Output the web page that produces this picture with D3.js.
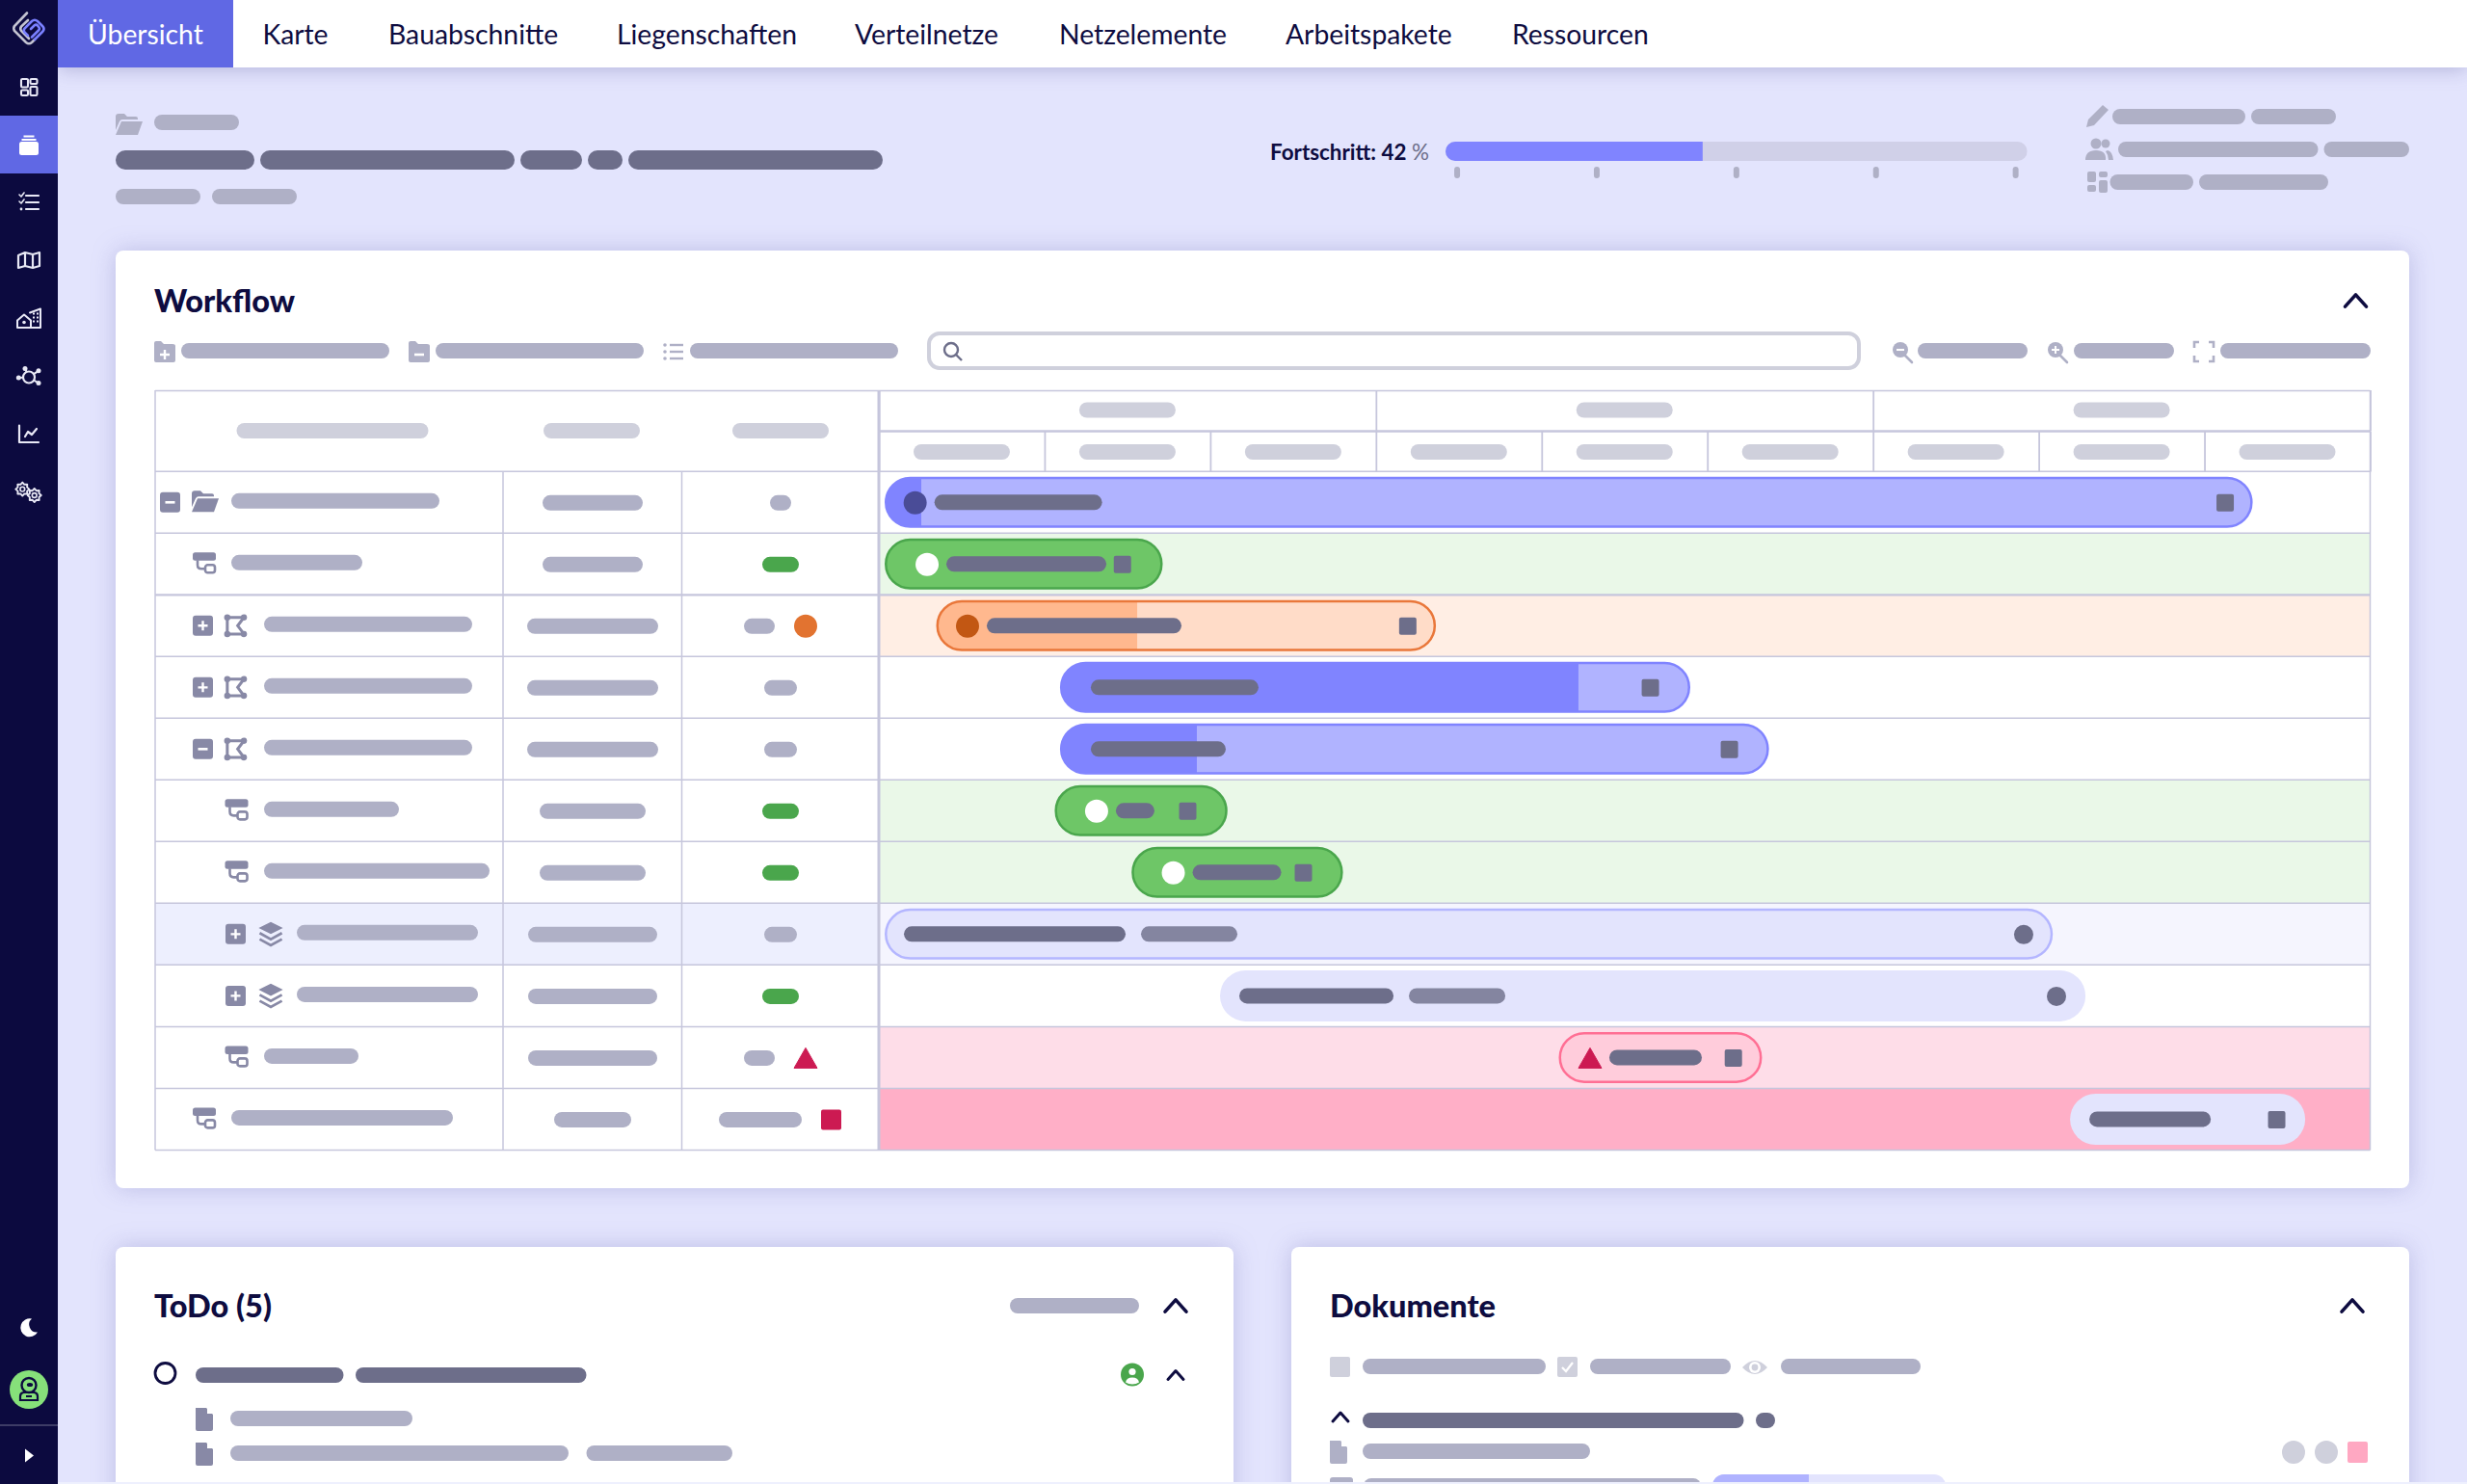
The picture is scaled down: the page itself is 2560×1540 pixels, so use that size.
<!DOCTYPE html>
<html>
<head>
<meta charset="utf-8">
<title>Workflow</title>
<script src="https://cdn.jsdelivr.net/npm/d3@7"></script>
<style>
  html, body { margin: 0; padding: 0; background: #e3e4fd; }
  svg { display: block; }
  text { font-family: Lato, "Open Sans", sans-serif; }
</style>
</head>
<body>
<div id="page"></div>
<script>
// nav
var navTabs = ["Übersicht", "Karte", "Bauabschnitte", "Liegenschaften", "Verteilnetze", "Netzelemente", "Arbeitspakete", "Ressourcen"];
var navStart = [91, 272.5, 403, 640, 887, 1099, 1334, 1569];

// progress
var progressValue = 44.2;
var progressTicks = [2, 26, 50, 74, 98];

// gantt, times are in months from the left edge of the time line
var monthTicks = [0, 1, 2, 3, 4, 5, 6, 7, 8, 9];
var quarterTicks = [0, 3, 6, 9];
var rowIds = [0, 1, 2, 3, 4, 5, 6, 7, 8, 9, 10];
var barStart = [0.035, 0.035, 0.346, 1.093, 1.093, 1.061, 1.525, 0.035, 2.059, 4.103, 7.189];
var barEnd = [8.291, 1.713, 3.362, 4.897, 5.372, 2.104, 2.801, 7.085, 7.282, 5.330, 8.608];
var barDone = [0.256, null, 1.559, 4.222, 1.919, null, null, null, null, null, null];
var startMark = [0.219, 0.291, 0.535, null, null, 1.314, 1.777, null, null, 4.292, null];
var endMark = [8.125, 1.470, 3.192, 4.656, 5.133, 1.864, 2.562, 6.909, 7.107, 5.157, 8.436];
var rowState = ["blue", "green", "orange", "blue", "blue", "green", "green", "phase", "phaseFlat", "pink", "late"];
var rowDepth = [0, 0, 1, 1, 1, 1, 1, 2, 2, 1, 0];
var rowKind = ["folder", "task", "area", "area", "area", "task", "task", "layers", "layers", "task", "task"];
var rowToggle = ["-", null, "+", "+", "-", null, null, "+", "+", null, null];

// redacted text, lengths in characters
var nameChars = [27, 17, 27, 27, 27, 17.5, 29.25, 23.5, 23.5, 12.25, 28.75];
var dateChars = [13, 13, 17, 17, 17, 13.75, 13.75, 16.75, 16.75, 16.75, 10];
var statusChars = [2.75, 4.75, 4, 4.25, 4.25, 4.75, 4.75, 4.25, 4.75, 4, 10.75];
var statusGood = [false, true, false, false, false, true, true, false, true, false, false];
var statusFlag = [null, null, "circle", null, null, null, null, null, null, "triangle", "square"];
var barChars = [21.75, 20.75, 25.25, 21.75, 17.5, 5, 11.5, 28.75, 20, 12, 15.75];
var barChars2 = [0, 0, 0, 0, 0, 0, 0, 12.5, 12.5, 0, 0];

var colors = {
  side: "#0c0a3f", tab: "#6068e4", page: "#e3e4fd", ink: "#0e0c40",
  dark: "#6d6e8a", mid: "#8485a0", pale: "#afb0c6", faint: "#cfd0dc", icon: "#8889a6",
  line: "#c6c6dc", crimson: "#cc1a52", orange: "#e27330", good: "#4aa64c", blue: "#8084ff"
};
var states = {
  blue: { row: "#ffffff", fill: "#b0b3ff", done: "#8084ff", stroke: "#8084ff", dot: "#4a4c97" },
  green: { row: "#eaf8e8", fill: "#6ec667", done: "#6ec667", stroke: "#4aa64c", dot: "#ffffff" },
  orange: { row: "#ffeee4", fill: "#ffdcc8", done: "#ffb88e", stroke: "#e9773a", dot: "#c25713" },
  phase: { row: "#f5f5fe", fill: "#e3e4fd", done: "#e3e4fd", stroke: "#b4b6ff", dot: "#6d6e8a" },
  phaseFlat: { row: "#ffffff", fill: "#e3e4fd", done: "#e3e4fd", stroke: "none", dot: "#6d6e8a" },
  pink: { row: "#fedde8", fill: "#ffccdb", done: "#ffccdb", stroke: "#ff6f94", dot: "#cc1a52" },
  late: { row: "#ffafc7", fill: "#e3e4fd", done: "#e3e4fd", stroke: "none", dot: "#6d6e8a" }
};

var svg = d3.select("#page").append("svg").attr("width", 2560).attr("height", 1540);
var defs = svg.append("defs");

// scales
var x = d3.scaleLinear().domain([0, 9]).range([912, 2459.5]);
var y = d3.scaleBand().domain(rowIds).range([489.3, 1193.4]);
var chars = d3.scaleLinear().domain([0, 1]).range([0, 8]);
var prog = d3.scaleLinear().domain([0, 100]).range([1500, 2103.7]);

function pill(g, x0, x1, yc, h, color) {
  return g.append("rect").attr("x", x0).attr("y", yc - h / 2).attr("width", x1 - x0).attr("height", h)
    .attr("rx", h / 2).attr("fill", color);
}
function card(x0, y0, x1, y1) {
  svg.append("rect").attr("x", x0).attr("y", y0).attr("width", x1 - x0).attr("height", y1 - y0)
    .attr("rx", 8).attr("fill", "#fff")
    .style("filter", "drop-shadow(0 0 12px rgba(90,90,170,.28))");
}
function title(str, tx, ty) {
  svg.append("text").attr("x", tx).attr("y", ty).attr("font-size", 32.5).attr("font-weight", 900)
    .attr("fill", colors.ink).text(str);
}
function chevron(g, cx, cy, w, sw) {
  g.append("path").attr("d", "M" + (cx - w / 2) + " " + (cy + w * 0.28) + "L" + cx + " " + (cy - w * 0.28) + "L" + (cx + w / 2) + " " + (cy + w * 0.28))
    .attr("fill", "none").attr("stroke", colors.ink).attr("stroke-width", sw).attr("stroke-linecap", "round").attr("stroke-linejoin", "round");
}

// little glyphs, each one is drawn around 0,0
function at(g, cx, cy, s) {
  return g.append("g").attr("transform", "translate(" + cx + "," + cy + ")" + (s ? " scale(" + s + ")" : ""));
}
function folderOpen(g, c) {
  g.append("path").attr("fill", c).attr("d", "M-14 -8q0-3 3-3h6l3 3h9q2 0 2 2v1h-16q-2 0-3 2l-4 9z");
  g.append("path").attr("fill", c).attr("d", "M-8 -3h22l-5 14h-23z");
}
function folderSign(g, c, sign) {
  g.append("path").attr("fill", c).attr("d", "M-11 -9q0-2 2-2h5l3 3h9q3 0 3 2v15q0 2-2 2h-18q-2 0-2-2z");
  sign(g.append("g").attr("transform", "translate(0,3)"));
}
function plusSign(g) {
  g.append("path").attr("d", "M-5 0h10M0 -5v10").attr("stroke", "#fff").attr("stroke-width", 2.4).attr("fill", "none");
}
function minusSign(g) {
  g.append("path").attr("d", "M-5 0h10").attr("stroke", "#fff").attr("stroke-width", 2.6).attr("fill", "none");
}
function listGlyph(g, c) {
  [-7, 0, 7].forEach(function(d) {
    g.append("circle").attr("cx", -9).attr("cy", d).attr("r", 1.8).attr("fill", c);
    g.append("rect").attr("x", -4).attr("y", d - 1.2).attr("width", 14).attr("height", 2.4).attr("fill", c);
  });
}
function taskGlyph(g) {
  var c = colors.icon;
  g.append("rect").attr("x", -12).attr("y", -11).attr("width", 24).attr("height", 8.5).attr("rx", 2.5).attr("fill", c);
  g.append("path").attr("d", "M-7 -3v5q0 4 4 4h4").attr("fill", "none").attr("stroke", c).attr("stroke-width", 2.6);
  g.append("rect").attr("x", 1).attr("y", 2).attr("width", 10).attr("height", 8).attr("rx", 2.5).attr("fill", "#fff").attr("stroke", c).attr("stroke-width", 2.6);
}
function areaGlyph(g) {
  var c = colors.icon;
  g.append("path").attr("d", "M-8 -8H8L2 0L8 8H-8Z").attr("fill", "none").attr("stroke", c).attr("stroke-width", 2.8);
  [[-8, -8], [8, -8], [8, 8], [-8, 8]].forEach(function(p) {
    g.append("circle").attr("cx", p[0]).attr("cy", p[1]).attr("r", 3).attr("fill", c);
  });
}
function layersGlyph(g) {
  var c = colors.icon;
  g.append("path").attr("d", "M0 -12L12 -6L0 0L-12 -6Z").attr("fill", c);
  g.append("path").attr("d", "M-11 -1L0 5L11 -1M-11 5L0 11L11 5").attr("fill", "none").attr("stroke", c).attr("stroke-width", 2.6);
}
function toggleBox(g, sign) {
  g.append("rect").attr("x", -10.5).attr("y", -10.5).attr("width", 21).attr("height", 21).attr("rx", 3).attr("fill", colors.icon);
  if (sign == "+") plusSign(g); else minusSign(g);
}
function magnifier(g, c, sign) {
  g.append("circle").attr("cx", -2).attr("cy", -2).attr("r", 8).attr("fill", c);
  g.append("path").attr("d", "M3 4L10 11").attr("stroke", c).attr("stroke-width", 2.6).attr("stroke-linecap", "round");
  if (sign) sign(at(g, -2, -2, 0.8));
}
function docGlyph(g, c) {
  g.append("path").attr("fill", c).attr("d", "M-9 -12h11l7 7v15q0 2-2 2h-14q-2 0-2-2v-20q0-2 0-2z");
  g.append("path").attr("fill", "#fff").attr("d", "M3 -12v6h6z");
}
function gear(g, cx, cy, color) {
  var teeth = d3.range(0, 16).map(function(i) { return [i * Math.PI / 8, i % 2 ? 5.2 : 7]; });
  var gg = at(g, cx, cy);
  gg.append("path").attr("d", d3.lineRadial().curve(d3.curveLinearClosed)(teeth))
    .attr("fill", "none").attr("stroke", color).attr("stroke-width", 1.9).attr("stroke-linejoin", "round");
  gg.append("circle").attr("r", 2.4).attr("fill", "none").attr("stroke", color).attr("stroke-width", 1.6);
}

// page
svg.append("rect").attr("width", 2560).attr("height", 1540).attr("fill", colors.page);

// nav bar
svg.append("rect").attr("x", 60).attr("width", 2500).attr("height", 70).attr("fill", "#fff")
  .style("filter", "drop-shadow(0 2px 10px rgba(70,70,140,.3))");
svg.append("rect").attr("x", 60).attr("width", 182).attr("height", 70).attr("fill", colors.tab);
svg.selectAll(".tab").data(navTabs).enter().append("text").attr("class", "tab")
  .attr("x", function(d, i) { return navStart[i]; })
  .attr("y", 46)
  .attr("font-size", 28.3)
  .attr("fill", function(d, i) { return i == 0 ? "#ffffff" : colors.ink; })
  .text(function(d) { return d; });

// head of the page
folderOpen(at(svg, 134, 129), colors.pale);
pill(svg, 160, 248, 127, 16, colors.pale);
[[120, 264], [270, 534], [540, 604], [610, 646], [652, 916]].forEach(function(p) { pill(svg, p[0], p[1], 166, 20, colors.dark); });
[[120, 208], [220, 308]].forEach(function(p) { pill(svg, p[0], p[1], 204, 16, colors.pale); });

// progress
var progText = svg.append("text").attr("x", 1318).attr("y", 165.5).attr("font-size", 22.4).attr("font-weight", 700).attr("fill", colors.ink);
progText.append("tspan").text("Fortschritt: 42 ");
progText.append("tspan").attr("fill", "#6d6e8a").attr("font-weight", 400).text("%");
defs.append("clipPath").attr("id", "progClip").append("rect").attr("x", prog(0)).attr("y", 147).attr("width", prog(100) - prog(0)).attr("height", 20).attr("rx", 10);
var progG = svg.append("g").attr("clip-path", "url(#progClip)");
progG.append("rect").attr("x", prog(0)).attr("y", 147).attr("width", prog(100) - prog(0)).attr("height", 20).attr("fill", "#d0d0e8");
progG.append("rect").attr("x", prog(0)).attr("y", 147).attr("width", prog(progressValue) - prog(0)).attr("height", 20).attr("fill", colors.blue);
svg.selectAll(".ptick").data(progressTicks).enter().append("rect").attr("class", "ptick")
  .attr("x", function(d) { return prog(d) - 3; }).attr("y", 173).attr("width", 6).attr("height", 12).attr("rx", 3).attr("fill", colors.pale);

// meta block top right
var pen = at(svg, 2176, 121);
pen.append("path").attr("fill", colors.pale).attr("d", "M-11 11l2-8L6 -12l6 5L-3 9z");
pill(svg, 2192, 2330, 121, 16, colors.pale);
pill(svg, 2336, 2424, 121, 16, colors.pale);
var users = at(svg, 2178, 155);
users.append("circle").attr("cx", -3).attr("cy", -6).attr("r", 5.5).attr("fill", colors.pale);
users.append("circle").attr("cx", 7).attr("cy", -6).attr("r", 4.5).attr("fill", colors.pale);
users.append("path").attr("fill", colors.pale).attr("d", "M-14 11q0-10 11-10t10 10zM9 1q5 1 6 10h-5q0-5-3-9z");
pill(svg, 2198, 2405.5, 155, 16, colors.pale);
pill(svg, 2411.5, 2500, 155, 16, colors.pale);
var grid = at(svg, 2176, 189);
[[-10, -11, 9, 11], [2, -11, 9, 6], [-10, 3, 9, 7], [2, -2, 9, 13]].forEach(function(p) {
  grid.append("rect").attr("x", p[0]).attr("y", p[1]).attr("width", p[2]).attr("height", p[3]).attr("rx", 2).attr("fill", colors.pale);
});
pill(svg, 2189.5, 2276, 189, 16, colors.pale);
pill(svg, 2282, 2416, 189, 16, colors.pale);

// workflow card
card(120, 260, 2500, 1233);
title("Workflow", 160, 324);
chevron(svg, 2444.5, 312, 22, 3.6);

folderSign(at(svg, 171, 365), colors.pale, plusSign);
pill(svg, 188, 404, 364, 16, colors.pale);
folderSign(at(svg, 435, 365), colors.pale, minusSign);
pill(svg, 452, 668, 364, 16, colors.pale);
listGlyph(at(svg, 699, 365), colors.pale);
pill(svg, 716, 932, 364, 16, colors.pale);

svg.append("rect").attr("x", 964).attr("y", 346).attr("width", 965).attr("height", 36).attr("rx", 11)
  .attr("fill", "#fff").attr("stroke", colors.faint).attr("stroke-width", 4);
var lens = at(svg, 988, 364);
lens.append("circle").attr("cx", -1).attr("cy", -1).attr("r", 7).attr("fill", "none").attr("stroke", colors.dark).attr("stroke-width", 2.4);
lens.append("path").attr("d", "M4 4L10 10").attr("stroke", colors.dark).attr("stroke-width", 2.4);

magnifier(at(svg, 1974, 365), colors.pale, minusSign);
pill(svg, 1990, 2104, 364, 16, colors.pale);
magnifier(at(svg, 2135, 365), colors.pale, plusSign);
pill(svg, 2152, 2256, 364, 16, colors.pale);
var corners = at(svg, 2287, 365);
corners.append("path").attr("d", "M-10 -4v-6h5M5 -10h5v6M10 4v6h-5M-5 10h-5v-6").attr("fill", "none").attr("stroke", colors.pale).attr("stroke-width", 2.6);
pill(svg, 2304, 2460, 364, 16, colors.pale);

// row backgrounds
var table = svg.append("g");
table.selectAll(".rowBg").data(rowIds).enter().append("rect").attr("class", "rowBg")
  .attr("x", x(0)).attr("y", function(d) { return y(d); })
  .attr("width", x(9) - x(0)).attr("height", y.bandwidth())
  .attr("fill", function(d) { return states[rowState[d]].row; });
table.append("rect").attr("x", 161).attr("y", y(7)).attr("width", x(0) - 161).attr("height", y.bandwidth()).attr("fill", "#edeffe");

// table lines
table.selectAll(".rowLine").data(d3.range(0, 12)).enter().append("line").attr("class", "rowLine")
  .attr("x1", 161).attr("x2", x(9))
  .attr("y1", function(d) { return 489.3 + d * y.step(); }).attr("y2", function(d) { return 489.3 + d * y.step(); })
  .attr("stroke", colors.line).attr("stroke-width", function(d) { return d == 2 ? 2.2 : 1.5; });
[[161, 405, 161, 1193.4], [522, 489.3, 522, 1193.4], [707.5, 489.3, 707.5, 1193.4], [161, 405.5, 2459.5, 405.5], [x(0), 405, x(0), 1193.4], [x(9), 405, x(9), 1193.4], [x(0), 447.5, x(9), 447.5]].forEach(function(l, i) {
  table.append("line").attr("x1", l[0]).attr("y1", l[1]).attr("x2", l[2]).attr("y2", l[3])
    .attr("stroke", colors.line).attr("stroke-width", i == 4 ? 3 : i == 6 ? 2.4 : 1.5);
});

// time axis, only the tick lines are visible
var quarterAxis = d3.axisBottom(x).tickValues(quarterTicks).tickSize(42).tickFormat("");
var monthAxis = d3.axisBottom(x).tickValues(monthTicks).tickSize(42).tickFormat("");
[[405, quarterAxis], [447.5, monthAxis]].forEach(function(a) {
  var ag = table.append("g").attr("transform", "translate(0," + a[0] + ")").call(a[1]);
  ag.select(".domain").remove();
  ag.selectAll("line").attr("stroke", colors.line).attr("stroke-width", 1.8);
});
pill(svg, 245.5, 444.5, 447, 16, colors.faint);
pill(svg, 564, 664, 447, 16, colors.faint);
pill(svg, 760, 860, 447, 16, colors.faint);
[0, 3, 6].forEach(function(m) { pill(svg, x(m + 1.5) - 50, x(m + 1.5) + 50, 425.5, 16, colors.faint); });
d3.range(0, 9).forEach(function(m) { pill(svg, x(m + 0.5) - 50, x(m + 0.5) + 50, 469, 16, colors.faint); });

// left columns
var rows = svg.selectAll(".row").data(rowIds).enter().append("g").attr("class", "row")
  .attr("transform", function(d) { return "translate(0," + (y(d) + y.bandwidth() / 2) + ")"; });
rows.each(function(d) {
  var g = d3.select(this);
  var iconX = 212, nameX = 240, toggleX = 176.5;
  if (rowDepth[d] == 1) { iconX = 245.5; nameX = 274; toggleX = 210.5; }
  if (rowKind[d] == "layers") { iconX = 281; nameX = 308; toggleX = 244.5; }
  if (rowToggle[d]) toggleBox(at(g, toggleX, 0), rowToggle[d]);
  if (rowKind[d] == "folder") folderOpen(at(g, iconX + 1, -1), colors.icon);
  if (rowKind[d] == "task") taskGlyph(at(g, iconX, -1));
  if (rowKind[d] == "area") areaGlyph(at(g, iconX - 1, 0, 1.08));
  if (rowKind[d] == "layers") layersGlyph(at(g, iconX, 0, 1.05));
  pill(g, nameX, nameX + chars(nameChars[d]), -1.5, 16, colors.pale);

  var dw = chars(dateChars[d]) / 2;
  pill(g, 615 - dw, 615 + dw, 0.5, 16, colors.pale);

  var sw = chars(statusChars[d]);
  var sx = statusFlag[d] == "square" ? 746 : statusFlag[d] ? 772 : 810 - sw / 2;
  pill(g, sx, sx + sw, 0.5, 16, statusGood[d] ? colors.good : colors.pale);
  if (statusFlag[d] == "circle") g.append("circle").attr("cx", 836).attr("cy", 0.5).attr("r", 12).attr("fill", colors.orange);
  if (statusFlag[d] == "triangle") g.append("path").attr("d", "M836 -10L848 11H824Z").attr("fill", colors.crimson).attr("stroke", colors.crimson).attr("stroke-width", 1).attr("stroke-linejoin", "round");
  if (statusFlag[d] == "square") g.append("rect").attr("x", 852).attr("y", -10).attr("width", 21).attr("height", 21).attr("rx", 2).attr("fill", colors.crimson);
});

// bars
var bars = svg.selectAll(".bar").data(rowIds).enter().append("g").attr("class", "bar")
  .attr("transform", function(d) { return "translate(0," + (y(d) + y.bandwidth() / 2) + ")"; });
bars.each(function(d) {
  var g = d3.select(this);
  var st = states[rowState[d]];
  var x0 = x(barStart[d]), x1 = x(barEnd[d]);
  var hasStroke = st.stroke != "none";
  var inset = hasStroke ? 1.25 : 0;
  var h = 53 - inset * 2;

  defs.append("clipPath").attr("id", "barClip" + d).append("rect")
    .attr("x", x0 + inset).attr("y", -h / 2).attr("width", x1 - x0 - inset * 2).attr("height", h).attr("rx", h / 2);
  g.append("rect").attr("x", x0 + inset).attr("y", -h / 2).attr("width", x1 - x0 - inset * 2).attr("height", h).attr("rx", h / 2).attr("fill", st.fill);
  if (barDone[d] != null) {
    g.append("rect").attr("clip-path", "url(#barClip" + d + ")")
      .attr("x", x0).attr("y", -h / 2).attr("width", x(barDone[d]) - x0).attr("height", h).attr("fill", st.done);
  }
  if (hasStroke) {
    g.append("rect").attr("x", x0 + inset).attr("y", -h / 2).attr("width", x1 - x0 - inset * 2).attr("height", h).attr("rx", h / 2)
      .attr("fill", "none").attr("stroke", st.stroke).attr("stroke-width", 2.5);
  }

  // start marker
  if (startMark[d] != null) {
    if (rowState[d] == "pink") {
      var tx = x(startMark[d]);
      g.append("path").attr("d", "M" + tx + " -10L" + (tx + 12) + " 11H" + (tx - 12) + "Z").attr("fill", colors.crimson)
        .attr("stroke", colors.crimson).attr("stroke-linejoin", "round");
    } else {
      g.append("circle").attr("cx", x(startMark[d])).attr("cy", 0.5).attr("r", 12).attr("fill", st.dot);
    }
  }

  // label
  var pad = rowState[d] == "blue" ? 32 : 20;
  var lx = startMark[d] != null ? x(startMark[d]) + 20 : x0 + pad;
  pill(g, lx, lx + chars(barChars[d]), 0, 16, colors.dark);
  if (barChars2[d]) pill(g, lx + chars(barChars[d]) + 16, lx + chars(barChars[d]) + 16 + chars(barChars2[d]), 0, 16, colors.mid);

  // end marker
  if (rowState[d] == "phase" || rowState[d] == "phaseFlat") {
    g.append("circle").attr("cx", x(endMark[d])).attr("cy", 0.5).attr("r", 10).attr("fill", colors.dark);
  } else {
    g.append("rect").attr("x", x(endMark[d]) - 9).attr("y", -8.5).attr("width", 18).attr("height", 18).attr("rx", 2).attr("fill", colors.dark);
  }
});

// todo card
card(120, 1294, 1280, 1600);
title("ToDo (5)", 160, 1367);
pill(svg, 1048, 1182, 1355, 16, colors.pale);
chevron(svg, 1220, 1355, 22, 3.6);
svg.append("circle").attr("cx", 171.5).attr("cy", 1425).attr("r", 10.5).attr("fill", "none").attr("stroke", colors.ink).attr("stroke-width", 2.8);
pill(svg, 203, 356.5, 1427, 16, colors.dark);
pill(svg, 369, 608.5, 1427, 16, colors.dark);
var who = at(svg, 1175, 1426.5);
who.append("circle").attr("r", 12).attr("fill", colors.good);
who.append("circle").attr("cy", -3).attr("r", 3.6).attr("fill", "#fff");
who.append("path").attr("d", "M-7 8q1-5 7-5t7 5q-3 2-7 2t-7-2z").attr("fill", "#fff");
chevron(svg, 1220, 1427, 16, 3);
docGlyph(at(svg, 212, 1473), colors.icon);
pill(svg, 239, 428, 1472, 16, colors.pale);
docGlyph(at(svg, 212, 1509), colors.icon);
pill(svg, 239, 590, 1508, 16, colors.pale);
pill(svg, 608.5, 760, 1508, 16, colors.pale);

// dokumente card
card(1340, 1294, 2500, 1600);
title("Dokumente", 1380, 1367);
chevron(svg, 2441, 1355, 22, 3.6);
svg.append("rect").attr("x", 1380).attr("y", 1408).attr("width", 21).attr("height", 21).attr("rx", 2).attr("fill", colors.faint);
pill(svg, 1414, 1604, 1418, 16, colors.pale);
svg.append("rect").attr("x", 1616).attr("y", 1408).attr("width", 21).attr("height", 21).attr("rx", 2).attr("fill", colors.faint);
svg.append("path").attr("d", "M1621 1419l4 4l7-9").attr("fill", "none").attr("stroke", "#fff").attr("stroke-width", 2.2);
pill(svg, 1650, 1796, 1418, 16, colors.pale);
var eye = at(svg, 1821, 1419);
eye.append("path").attr("d", "M-13 0q13-14 26 0q-13 14-26 0z").attr("fill", colors.faint);
eye.append("circle").attr("r", 6).attr("fill", "#fff");
eye.append("circle").attr("r", 3.4).attr("fill", colors.faint);
pill(svg, 1848, 1993, 1418, 16, colors.pale);
chevron(svg, 1391, 1470.5, 16, 3);
pill(svg, 1414, 1809.5, 1474, 16, colors.dark);
pill(svg, 1822, 1842, 1474, 16, colors.dark);
docGlyph(at(svg, 1389, 1507), colors.pale);
pill(svg, 1414, 1650, 1506, 16, colors.pale);

[1507, 1553].forEach(function(cy) {
  svg.append("circle").attr("cx", 2380).attr("cy", cy).attr("r", 12).attr("fill", colors.faint);
  svg.append("circle").attr("cx", 2414).attr("cy", cy).attr("r", 12).attr("fill", colors.faint);
  svg.append("rect").attr("x", 2436).attr("y", cy - 11).attr("width", 21).attr("height", 22).attr("rx", 2).attr("fill", "#ffa8c2");
});
svg.append("rect").attr("x", 1380).attr("y", 1533).attr("width", 24).attr("height", 20).attr("rx", 3).attr("fill", colors.pale);
pill(svg, 1415, 1765, 1542, 16, colors.pale);
defs.append("clipPath").attr("id", "docClip").append("rect").attr("x", 1777).attr("y", 1530).attr("width", 242).attr("height", 24).attr("rx", 12);
var docBar = svg.append("g").attr("clip-path", "url(#docClip)");
docBar.append("rect").attr("x", 1777).attr("y", 1530).attr("width", 242).attr("height", 24).attr("fill", "#e3e4fd");
docBar.append("rect").attr("x", 1777).attr("y", 1530).attr("width", 100).attr("height", 24).attr("fill", "#b0b3ff");
svg.append("rect").attr("x", 60).attr("y", 1538).attr("width", 2500).attr("height", 2).attr("fill", "#eef0fe");

// sidebar
svg.append("rect").attr("width", 60).attr("height", 1540).attr("fill", colors.side);
svg.append("rect").attr("y", 120).attr("width", 60).attr("height", 60).attr("fill", colors.tab);
svg.append("rect").attr("y", 1478).attr("width", 60).attr("height", 2).attr("fill", "#3d3c66");

var sideColor = "#e8e8f5";
var sideStroke = function(g, d, w) {
  return g.append("path").attr("d", d).attr("fill", "none").attr("stroke", sideColor).attr("stroke-width", w || 2.2).attr("stroke-linejoin", "round").attr("stroke-linecap", "round");
};
var logo = svg.append("g").attr("fill", "none").attr("stroke-width", 2.6).attr("stroke-linecap", "round");
logo.append("path").attr("stroke", "#c4c4d2").attr("d", "M28 13.5L15 27Q13.5 29.5 15 32L27 44Q30 46.5 33 44L36 41M29 21L22 27.5Q20.5 30 22 32L30 40");
logo.append("path").attr("stroke", "#7a80ff").attr("d", "M36 41L44 33Q47 30 44 27L39 22Q36 19.5 33 22L25.5 29.5Q24 31.5 25.5 33.5L29 37M32 30L36 26Q37.5 25 39 26.5L40.5 28.5Q41.5 30 40 31.5L33 38.5");

var g1 = at(svg, 30, 90.5);
[[-8, -8.5, 7, 8.5], [1.5, -8.5, 7, 5], [1.5, -0.5, 7, 9], [-8, 3, 7, 5.5]].forEach(function(p) {
  g1.append("rect").attr("x", p[0]).attr("y", p[1]).attr("width", p[2]).attr("height", p[3]).attr("rx", 1.2).attr("fill", "none").attr("stroke", sideColor).attr("stroke-width", 2.1);
});
var g2 = at(svg, 30, 150.5);
g2.append("rect").attr("x", -10).attr("y", -3.5).attr("width", 20).attr("height", 14).attr("rx", 2.5).attr("fill", "#fff");
g2.append("rect").attr("x", -7.5).attr("y", -6.5).attr("width", 15).attr("height", 2).attr("fill", "#fff");
g2.append("rect").attr("x", -5.5).attr("y", -10).attr("width", 11).attr("height", 2).attr("fill", "#fff");
var g3 = at(svg, 30, 210);
sideStroke(g3, "M-3 -7H10M-3 0H10M-3 7H10");
sideStroke(g3, "M-10 -8l2 2l3 -4M-10 -1l2 2l3 -4", 1.6);
g3.append("circle").attr("cx", -8).attr("cy", 7).attr("r", 1.4).attr("fill", sideColor);
var g4 = at(svg, 30, 270);
sideStroke(g4, "M-11 -5L-4 -8L4 -6L11 -8V6L4 8L-4 6L-11 8ZM-4 -8V6M4 -6V8");
var g5 = at(svg, 30, 330.5);
sideStroke(g5, "M-12 9.5V2L-5 -4L2 2V9.5ZM1 -6L12 -10V9.5H2", 2);
g5.append("circle").attr("cx", -5).attr("cy", 4).attr("r", 1.8).attr("fill", sideColor);
[[5, -5], [9, -5], [5, -1], [9, -1], [5, 3], [9, 3]].forEach(function(p) { g5.append("rect").attr("x", p[0] - 1).attr("y", p[1] - 1).attr("width", 2).attr("height", 2).attr("fill", sideColor); });
var g6 = at(svg, 30, 391.5);
g6.append("circle").attr("r", 6).attr("fill", "none").attr("stroke", sideColor).attr("stroke-width", 2.2);
[[-10.7, 0.6], [-4, -9], [10, -6.7], [10, 6]].forEach(function(p) {
  var len = Math.sqrt(p[0] * p[0] + p[1] * p[1]);
  g6.append("circle").attr("cx", p[0]).attr("cy", p[1]).attr("r", 2.5).attr("fill", sideColor);
  sideStroke(g6, "M" + (p[0] * 6 / len) + " " + (p[1] * 6 / len) + "L" + p[0] + " " + p[1], 2);
});
var g7 = at(svg, 30, 450);
sideStroke(g7, "M-10 -8.5V9H10");
sideStroke(g7, "M-4 3L-1 -2L3 1L8 -5");
gear(svg, 23.3, 507.6, sideColor);
gear(svg, 35.7, 514, sideColor);

at(svg, 30, 1377.5).append("path").attr("fill", "#fff").attr("d", "M3 -9A9.5 9.5 0 1 0 9 5A8 8 0 0 1 3 -9Z");
var av = at(svg, 30, 1442);
av.append("circle").attr("r", 20).attr("fill", "#86e07a");
av.append("circle").attr("cy", -4.5).attr("r", 7.5).attr("fill", "none").attr("stroke", colors.side).attr("stroke-width", 2.4);
av.append("ellipse").attr("cx", 1).attr("cy", -5).attr("rx", 3.2).attr("ry", 2).attr("fill", colors.side);
av.append("path").attr("d", "M-9 11V7Q-9 3.5 -5.5 3H5.5Q9 3.5 9 7V11ZM-3 7H3").attr("fill", "none").attr("stroke", colors.side).attr("stroke-width", 2.2);
at(svg, 30, 1510.5).append("path").attr("fill", "#fff").attr("d", "M-4 -7L5 0L-4 7Z");
</script>
</body>
</html>
